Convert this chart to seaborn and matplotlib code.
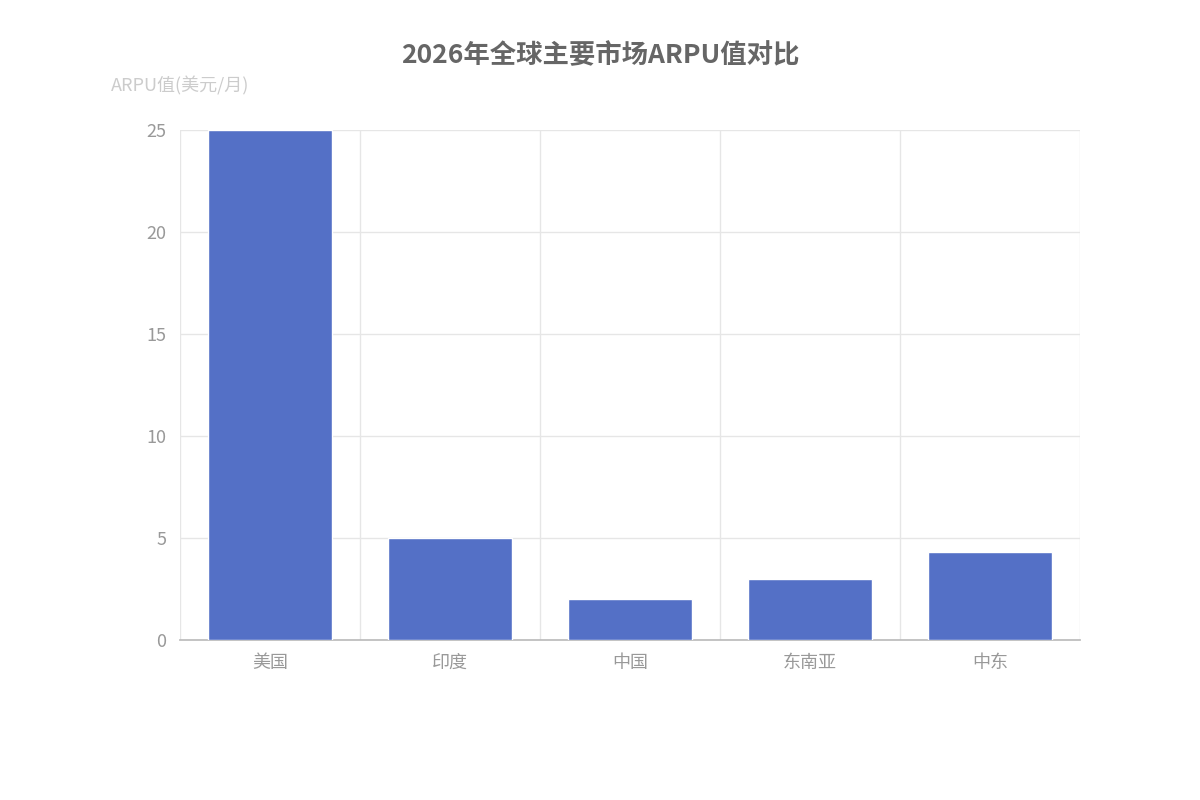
import matplotlib
matplotlib.use("Agg")
import matplotlib.pyplot as plt
import seaborn as sns
import pandas as pd

categories = ["美国", "印度", "中国", "东南亚", "中东"]
values = [25, 5, 2, 3, 4.3]
yticks = [0, 5, 10, 15, 20, 25]

sns.set_theme(style="white")
plt.rcParams['font.family'] = ['Noto Sans CJK SC', 'DejaVu Sans']

fig = plt.figure(figsize=(12, 8), dpi=100)
ax = fig.add_axes([0.15, 0.2, 0.75, 0.6375])
df = pd.DataFrame({"c": categories, "v": values})
sns.barplot(data=df, x="c", y="v", color="#5470c6", saturation=1, width=0.69, ax=ax, zorder=3)
ax.set_xlim(-0.5, len(categories) - 0.5)
ax.set_ylim(0, 25)
ax.set_yticks(yticks)
ax.set_yticklabels([str(t) for t in yticks])
for t in yticks[1:]:
    ax.axhline(t, color="#e6e6e6", lw=1, zorder=1)
for i in range(len(categories) + 1):
    ax.axvline(i - 0.5, color="#e6e6e6", lw=1, zorder=1)
for s in ["top", "right", "left"]:
    ax.spines[s].set_visible(False)
ax.spines["bottom"].set_color("#bbbbbb")
ax.tick_params(axis="both", length=0, labelsize=13, colors="#999999", pad=10)
ax.set_xlabel("")
ax.set_ylabel("")
fig.text(0.5, 0.93, "2026年全球主要市场ARPU值对比", ha="center", va="center",
         fontsize=19, fontweight="bold", color="#666666")
fig.text(0.15, 0.893, "ARPU值(美元/月)", ha="center", va="center", fontsize=13, color="#cccccc")
fig.savefig("out.png", dpi=100)
